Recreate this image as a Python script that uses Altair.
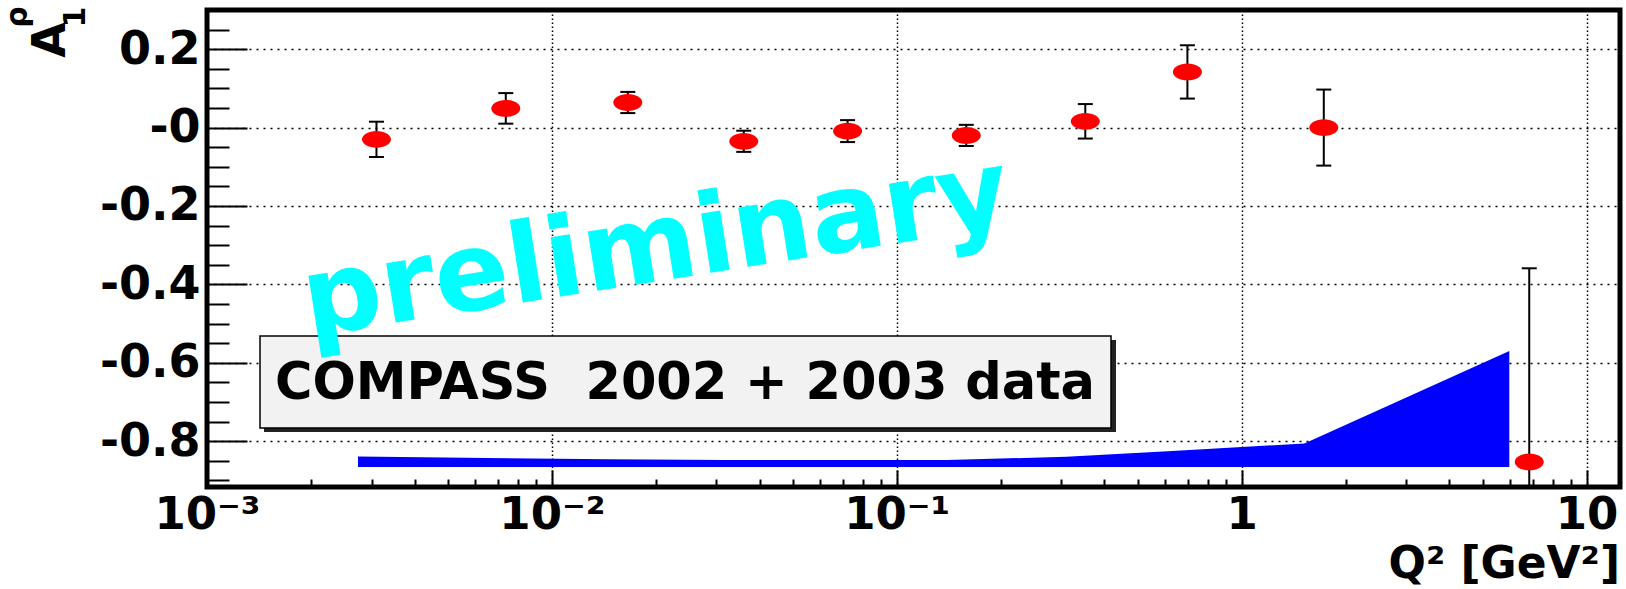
import altair as alt
import pandas as pd

# ---------------- data ----------------
q2 = [0.0031, 0.00735, 0.0166, 0.036, 0.072, 0.159, 0.352, 0.696, 1.73, 6.82]
a1 = [-0.030, 0.049, 0.064, -0.035, -0.009, -0.020, 0.016, 0.142, 0.000, -0.853]
err = [0.045, 0.039, 0.027, 0.027, 0.028, 0.027, 0.044, 0.068, 0.097, 0.494]

# systematic-error band
band_q2 = [0.00274, 0.0065, 0.0146, 0.0316, 0.063, 0.140, 0.310, 0.610, 1.52, 5.97]
band_top = [-0.839, -0.843, -0.846, -0.848, -0.848, -0.848, -0.840, -0.826, -0.806, -0.570]
band_bottom = [-0.866, -0.866, -0.866, -0.866, -0.866, -0.866, -0.866, -0.866, -0.866, -0.866]

# axis ticks
y_major = [0.2, 0.0, -0.2, -0.4, -0.6, -0.8]
y_minor = [0.25, 0.15, 0.1, 0.05, -0.05, -0.1, -0.15, -0.25, -0.3, -0.35,
           -0.45, -0.5, -0.55, -0.65, -0.7, -0.75, -0.85, -0.9]
x_major = [0.001, 0.01, 0.1, 1, 10]
x_minor = [m * 10.0 ** e for e in range(-3, 1) for m in range(2, 10)]

legend_text = "COMPASS\u00a0 2002 + 2003 data"
prelim_text = "preliminary"
x_title = "Q\u00b2 [GeV\u00b2]"

df = pd.DataFrame({"q2": q2, "a1": a1, "err": err})
df["lo"] = df["a1"] - df["err"]
df["hi"] = df["a1"] + df["err"]
band_df = pd.DataFrame({"q2": band_q2, "top": band_top, "bottom": band_bottom})

FONT = "DejaVu Sans"
W, H = 1413, 477

xs = alt.Scale(type="log", domain=[0.001, 12.5], nice=False)
ys = alt.Scale(domain=[-0.917, 0.3], nice=False, zero=False)

x_label_expr = ("datum.value > 5 ? '10' : datum.value > 0.5 ? '1' : "
                "datum.value > 0.05 ? '10\u207b\u00b9' : datum.value > 0.005 ? '10\u207b\u00b2' : '10\u207b\u00b3'")
y_label_expr = ("datum.value == 0 ? '-0' : (datum.value < 0 ? '-' + format(-datum.value, '.1f') "
                ": format(datum.value, '.1f'))")

x_axis_main = alt.Axis(orient="bottom", values=x_major, title=None, grid=True, gridColor="black",
                       gridDash=[1.5, 2.5], gridWidth=1.5, gridOpacity=1, ticks=False, tickSize=0,
                       domain=False, labelFont=FONT, labelFontWeight="bold", labelFontSize=45,
                       labelColor="black", labelPadding=41, labelBaseline="alphabetic",
                       labelFlush=False, labelOverlap=False, labelExpr=x_label_expr)
y_axis_main = alt.Axis(orient="left", values=y_major, title=None, grid=True, gridColor="black",
                       gridDash=[2, 5], gridWidth=1.5, gridOpacity=1, ticks=False, tickSize=0,
                       domain=False, labelFont=FONT, labelFontWeight="bold", labelFontSize=46,
                       labelColor="black", labelPadding=7, labelBaseline="middle",
                       labelOverlap=False, labelExpr=y_label_expr)

x_axis_major_t = alt.Axis(orient="bottom", values=x_major, title=None, grid=False, labels=False,
                          domain=False, offset=-17, tickSize=17, tickWidth=2, tickColor="black")
y_axis_major_t = alt.Axis(orient="left", values=y_major, title=None, grid=False, labels=False,
                          domain=False, offset=-40, tickSize=40, tickWidth=2, tickColor="black")
x_axis_minor_t = alt.Axis(orient="bottom", values=x_minor, title=None, grid=False, labels=False,
                          domain=False, offset=-8, tickSize=8, tickWidth=2, tickColor="black")
y_axis_minor_t = alt.Axis(orient="left", values=y_minor, title=None, grid=False, labels=False,
                          domain=False, offset=-22, tickSize=22, tickWidth=2, tickColor="black")

band = alt.Chart(band_df).mark_area(color="#0000ff", opacity=1).encode(
    x=alt.X("q2:Q", scale=xs, axis=x_axis_main),
    y=alt.Y("top:Q", scale=ys, axis=y_axis_main),
    y2="bottom:Q",
)

one = pd.DataFrame({"t": [legend_text]})
box_shadow = alt.Chart(one).mark_rect(color="#222222").encode(
    x=alt.value(57), x2=alt.value(909), y=alt.value(330), y2=alt.value(422))
box = alt.Chart(one).mark_rect(fill="#f2f2f2", stroke="black", strokeWidth=1.5).encode(
    x=alt.value(53), x2=alt.value(904), y=alt.value(326), y2=alt.value(418))
box_text = alt.Chart(one).mark_text(font=FONT, fontWeight="bold", fontSize=51, color="black",
                                    align="center", baseline="middle").encode(
    text="t:N", x=alt.value(478), y=alt.value(374))

rules = alt.Chart(df).mark_rule(color="black", strokeWidth=2, clip=True).encode(
    x=alt.X("q2:Q", scale=xs, axis=x_axis_major_t),
    y=alt.Y("lo:Q", scale=ys, axis=y_axis_major_t),
    y2="hi:Q",
)

caps = alt.Chart(df).transform_fold(["lo", "hi"], as_=["end", "val"]).mark_tick(
    orient="horizontal", size=15, thickness=2, color="black", clip=True, opacity=1).encode(
    x=alt.X("q2:Q", scale=xs, axis=x_axis_minor_t),
    y=alt.Y("val:Q", scale=ys, axis=y_axis_minor_t),
)

ellipse = "M -1 0 A 1 0.58 0 1 1 1 0 A 1 0.58 0 1 1 -1 0 Z"
points = alt.Chart(df).mark_point(shape=ellipse, filled=True, color="#ff0000", size=841,
                                  opacity=1, strokeWidth=0).encode(
    x=alt.X("q2:Q", scale=xs, axis=None),
    y=alt.Y("a1:Q", scale=ys, axis=None),
)

prelim = alt.Chart(pd.DataFrame({"t": [prelim_text]})).mark_text(
    font=FONT, fontWeight="bold", fontSize=110, color="#00ffff", align="center",
    baseline="middle", angle=351).encode(text="t:N", x=alt.value(449), y=alt.value(238))

xt = alt.Chart(pd.DataFrame({"t": [x_title]})).mark_text(
    font=FONT, fontWeight="bold", fontSize=44, color="black", align="right",
    baseline="alphabetic").encode(text="t:N", x=alt.value(1413), y=alt.value(568))

ytA = alt.Chart(pd.DataFrame({"t": ["A"]})).mark_text(
    font=FONT, fontWeight="bold", fontSize=46, color="black", align="center",
    baseline="alphabetic", angle=270).encode(text="t:N", x=alt.value(-142), y=alt.value(30))
yt1 = alt.Chart(pd.DataFrame({"t": ["1"]})).mark_text(
    font=FONT, fontWeight="bold", fontSize=30, color="black", align="center",
    baseline="alphabetic", angle=270).encode(text="t:N", x=alt.value(-122), y=alt.value(7))
ytr = alt.Chart(pd.DataFrame({"t": ["\u03c1"]})).mark_text(
    font=FONT, fontWeight="bold", fontSize=30, color="black", align="center",
    baseline="alphabetic", angle=270).encode(text="t:N", x=alt.value(-180), y=alt.value(7))

chart = alt.layer(
    band, box_shadow, box, box_text, rules, caps, points, prelim, xt, ytA, yt1, ytr
).resolve_axis(x="independent", y="independent").properties(
    width=W, height=H,
    autosize=alt.AutoSizeParams(type="none"),
    padding={"left": 207, "top": 10, "right": 6, "bottom": 102},
    background="white",
).configure_view(stroke="black", strokeWidth=5)

chart.save("out.html", embed_options={"renderer": "svg", "actions": False})
